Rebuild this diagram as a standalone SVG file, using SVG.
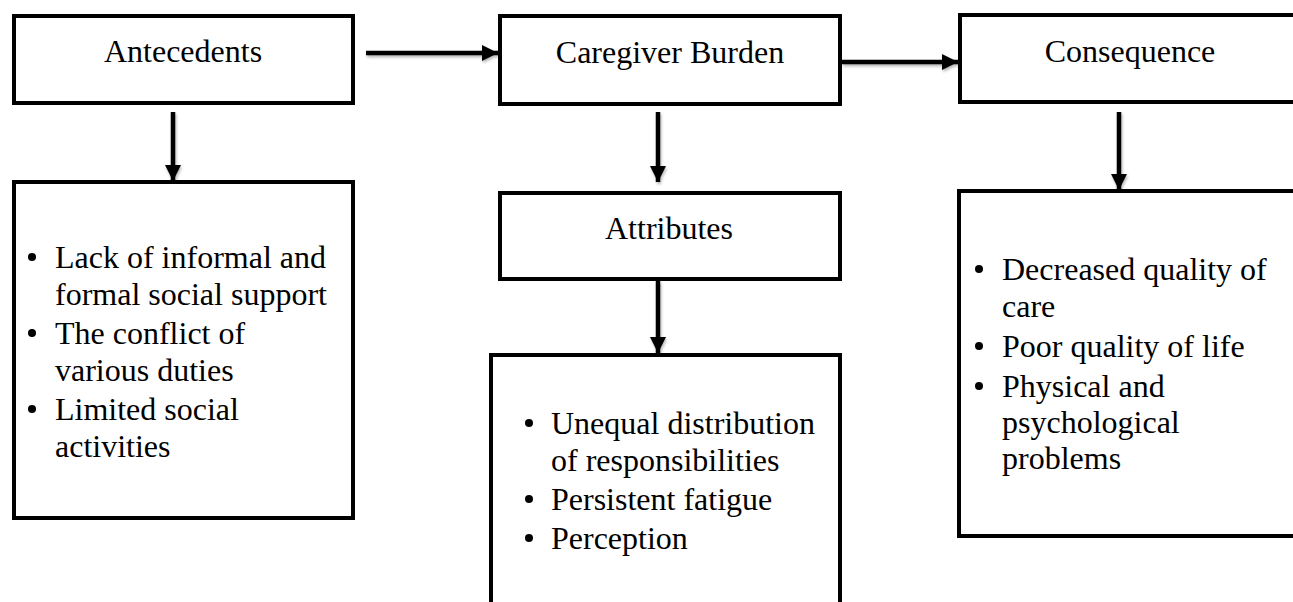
<svg xmlns="http://www.w3.org/2000/svg" width="1293" height="602" viewBox="0 0 1293 602">
<style>
  .box { fill: #ffffff; stroke: #000000; stroke-width: 4; }
  text { font-family: 'Liberation Serif', 'Times New Roman', Times, serif; font-size: 32px; fill: #000000; }
  .c { text-anchor: middle; }
  .ln { stroke: #000000; stroke-width: 4.5; fill: none; }
  .dot { fill: #000000; }
</style>
<defs>
  <marker id="ah" viewBox="0 0 10 10" refX="10" refY="5" markerWidth="3.6" markerHeight="3.6" orient="auto" markerUnits="strokeWidth">
    <path d="M0,0 L10,5 L0,10 Z" fill="#000000"/>
  </marker>
  <filter id="sh" x="-20%" y="-20%" width="140%" height="160%">
    <feGaussianBlur in="SourceAlpha" stdDeviation="1.5"/>
    <feOffset dx="1" dy="2" result="o"/>
    <feComponentTransfer><feFuncA type="linear" slope="0.3"/></feComponentTransfer>
    <feMerge><feMergeNode/><feMergeNode in="SourceGraphic"/></feMerge>
  </filter>
</defs>
<rect width="1293" height="602" fill="#ffffff"/>

<g id="connectors" filter="url(#sh)">
  <line class="ln" x1="366" y1="53" x2="498" y2="53" marker-end="url(#ah)"/>
  <line class="ln" x1="842" y1="62" x2="958" y2="62" marker-end="url(#ah)"/>
  <line class="ln" x1="173" y1="112" x2="173" y2="181" marker-end="url(#ah)"/>
  <line class="ln" x1="658" y1="112" x2="658" y2="182" marker-end="url(#ah)"/>
  <line class="ln" x1="658" y1="281" x2="658" y2="353" marker-end="url(#ah)"/>
  <line class="ln" x1="1119" y1="112" x2="1119" y2="190" marker-end="url(#ah)"/>
</g>

<g id="antecedents">
  <rect class="box" x="14" y="16" width="339" height="87"/>
  <text class="c" x="183" y="62" font-family="Liberation Serif">Antecedents</text>
</g>

<g id="caregiver-burden">
  <rect class="box" x="500" y="16" width="340" height="88"/>
  <text class="c" x="670" y="63" font-family="Liberation Serif">Caregiver Burden</text>
</g>

<g id="consequence">
  <rect class="box" x="960" y="15" width="400" height="87"/>
  <text class="c" x="1130" y="62" font-family="Liberation Serif">Consequence</text>
</g>

<g id="antecedents-list">
  <rect class="box" x="14" y="182" width="339" height="336"/>
  <circle class="dot" cx="32" cy="257" r="4"/>
  <circle class="dot" cx="32" cy="333" r="4"/>
  <circle class="dot" cx="32" cy="409" r="4"/>
  <text x="55" y="268" font-family="Liberation Serif">Lack of informal and</text>
  <text x="55" y="305" font-family="Liberation Serif">formal social support</text>
  <text x="55" y="344" font-family="Liberation Serif">The conflict of</text>
  <text x="55" y="381" font-family="Liberation Serif">various duties</text>
  <text x="55" y="420" font-family="Liberation Serif">Limited social</text>
  <text x="55" y="457" font-family="Liberation Serif">activities</text>
</g>

<g id="attributes">
  <rect class="box" x="500" y="193" width="340" height="86"/>
  <text class="c" x="669" y="239" font-family="Liberation Serif">Attributes</text>
</g>

<g id="attributes-list">
  <rect class="box" x="491" y="355" width="349" height="300"/>
  <circle class="dot" cx="529" cy="423" r="4"/>
  <circle class="dot" cx="529" cy="499" r="4"/>
  <circle class="dot" cx="529" cy="538" r="4"/>
  <text x="551" y="434" font-family="Liberation Serif">Unequal distribution</text>
  <text x="551" y="471" font-family="Liberation Serif">of responsibilities</text>
  <text x="551" y="510" font-family="Liberation Serif">Persistent fatigue</text>
  <text x="551" y="549" font-family="Liberation Serif">Perception</text>
</g>

<g id="consequence-list">
  <rect class="box" x="959" y="191" width="400" height="345"/>
  <circle class="dot" cx="979" cy="269" r="4"/>
  <circle class="dot" cx="979" cy="346" r="4"/>
  <circle class="dot" cx="979" cy="386" r="4"/>
  <text x="1002" y="280" font-family="Liberation Serif">Decreased quality of</text>
  <text x="1002" y="317" font-family="Liberation Serif">care</text>
  <text x="1002" y="357" font-family="Liberation Serif">Poor quality of life</text>
  <text x="1002" y="397" font-family="Liberation Serif">Physical and</text>
  <text x="1002" y="433" font-family="Liberation Serif">psychological</text>
  <text x="1002" y="469" font-family="Liberation Serif">problems</text>
</g>
</svg>
